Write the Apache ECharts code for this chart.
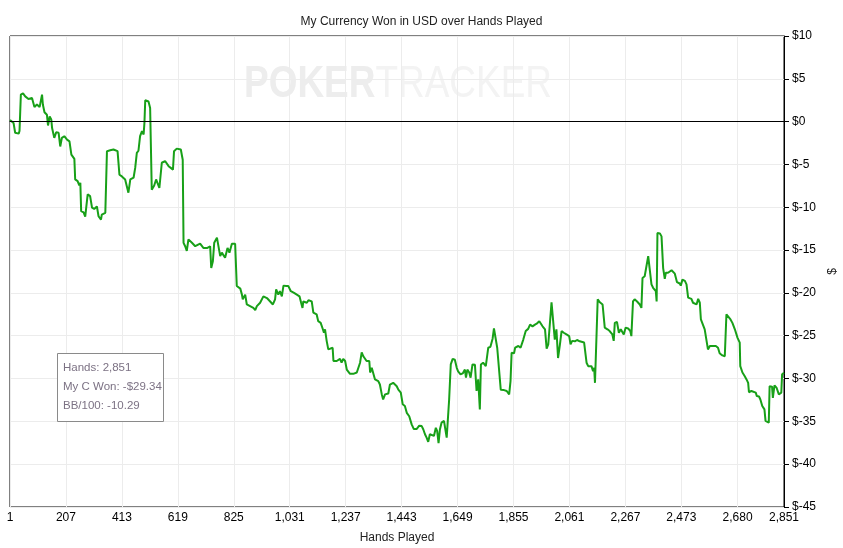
<!DOCTYPE html>
<html>
<head>
<meta charset="utf-8">
<script src="https://cdn.jsdelivr.net/npm/echarts@6/dist/echarts.min.js"></script>
<style>
  html, body { margin: 0; padding: 0; background: #fff; }
  #chart { width: 843px; height: 548px; }
</style>
</head>
<body>
<div id="chart"></div>
<script>
const handTicks = [1, 207, 413, 619, 825, 1031, 1237, 1443, 1649, 1855, 2061, 2267, 2473, 2680, 2851];

const hands = [
  1, 14, 20, 33, 36, 41, 49, 57, 69, 82, 88, 91, 100, 110, 119, 122, 128, 137, 141, 147,
  153, 156, 164, 171, 180, 186, 192, 201, 211, 220, 227, 238, 241, 250, 256, 260, 263, 272, 278, 287,
  296, 303, 311, 321, 327, 336, 339, 352, 358, 370, 382, 388, 397, 404, 413, 419, 425, 437, 444, 456,
  462, 468, 474, 480, 487, 493, 496, 499, 511, 517, 523, 532, 539, 551, 560, 572, 585, 593, 601, 605,
  615, 621, 630, 637,
  640, 646, 652, 658, 671, 683, 689, 701, 713, 720, 728, 738, 742, 748, 753, 763, 768, 775, 781, 787,
  793, 802, 809, 818, 830, 836, 849, 855, 858, 867, 873, 885, 897, 904, 910, 916, 922, 928, 934, 947,
  959, 969, 977, 981, 989, 995, 1002, 1008, 1018, 1026, 1035, 1047, 1057, 1067, 1073, 1078, 1081, 1094, 1100, 1112,
  1118, 1130, 1136, 1145, 1153, 1157, 1161, 1167, 1173, 1179, 1189, 1192, 1204, 1216, 1222, 1228, 1235, 1241, 1253, 1265,
  1278, 1284, 1290, 1296, 1302, 1314, 1324, 1327,
  1333, 1339, 1345, 1357, 1363, 1370, 1375, 1382, 1394, 1400, 1407, 1412, 1419, 1425, 1431, 1440, 1447, 1455, 1462, 1471,
  1480, 1488, 1498, 1508, 1517, 1523, 1529, 1535, 1541, 1547, 1554, 1562, 1569, 1574, 1579, 1584, 1590, 1599, 1606, 1609,
  1615, 1618, 1624, 1631, 1639, 1646, 1651, 1660, 1668, 1676, 1680, 1685, 1692, 1697, 1704, 1713, 1719, 1725, 1731, 1735,
  1743, 1753, 1758, 1762, 1770, 1778, 1783, 1790, 1795, 1802, 1808, 1820, 1830, 1839, 1844, 1848, 1857, 1861, 1873, 1881,
  1887, 1891, 1900, 1909, 1916, 1925, 1934, 1942, 1950,
  1962, 1971, 1977, 1983, 1989, 1995, 2001, 2007, 2013, 2019, 2026, 2032, 2040, 2050, 2060, 2065, 2071, 2081, 2089, 2099,
  2105, 2115, 2121, 2124, 2130, 2136, 2142, 2148, 2152, 2155, 2161, 2165, 2173, 2183, 2188, 2191, 2201, 2209, 2219, 2224,
  2228, 2236, 2243, 2250, 2256, 2261, 2268, 2277, 2285, 2289, 2295, 2301, 2310, 2320, 2326, 2330, 2338, 2345, 2351, 2357,
  2363, 2369, 2379, 2382,
  2385, 2394, 2400, 2406, 2412, 2416, 2424, 2437, 2449, 2457, 2467, 2471, 2477, 2486, 2492, 2498, 2504, 2510, 2516, 2529,
  2535, 2541, 2545, 2551, 2559, 2565, 2571, 2578, 2588, 2600, 2608, 2614, 2624, 2633, 2637, 2639, 2645, 2654, 2661, 2670,
  2676, 2680, 2688, 2690, 2698, 2706, 2713, 2719, 2722, 2731, 2737, 2747, 2751, 2759, 2764, 2771, 2779, 2783, 2795, 2798,
  2807, 2810, 2816, 2824, 2832, 2841, 2844, 2851
];

const won = [
  0.2, -0.15, -1.3, -1.4, -1.1, 3.15, 3.3, 2.95, 2.65, 2.75, 2.75, 1.7, 2.0, 1.7, 3.15, 2.0, 1.1, 0.8, -0.45, 0.6,
  0.25, -0.75, -1.9, -1.25, -1.3, -2.9, -1.9, -1.7, -2.1, -2.3, -3.85, -4.35, -6.75, -6.95, -7.45, -7.15, -10.45, -10.6, -11.1, -8.5,
  -8.7, -10.05, -10.2, -9.9, -11.05, -11.45, -10.85, -10.65, -3.45, -3.35, -3.25, -3.05, -3.45, -6.2, -6.4, -6.2, -6.75, -8.3, -6.75, -6.55,
  -5.4, -3.65, -3.4, -1.7, -1.1, -1.5, -0.15, 2.5, 2.35, 1.6, -7.95, -7.45, -6.75, -7.75, -4.8, -4.6, -5.2, -5.4, -5.6, -3.45,
  -3.15, -3.2, -3.25, -4.45,
  -14.15, -14.55, -15.1, -13.75, -14.15, -14.55, -14.75, -14.25, -14.75, -14.95, -14.75, -14.55, -17.1, -16.3, -14.15, -13.55, -13.75, -15.7, -15.3, -15.5,
  -15.9, -14.75, -15.3, -14.25, -14.25, -19.2, -19.5, -20.2, -20.75, -20.2, -21.35, -21.55, -21.75, -22.0, -21.55, -21.75, -21.15, -21.35, -20.4, -20.6,
  -21.0, -21.35, -20.75, -19.6, -20.2, -19.8, -20.4, -19.15, -19.2, -19.2, -19.8, -20.0, -20.2, -20.4, -21.15, -21.75, -21.0, -21.15, -20.85, -21.0,
  -22.3, -22.5, -23.3, -23.5, -24.25, -24.65, -24.25, -25.6, -26.6, -26.4, -26.4, -27.95, -27.95, -27.7, -28.15, -27.7, -27.95, -28.95, -29.45, -29.45,
  -29.3, -29.25, -28.15, -26.95, -27.4, -27.95, -27.95, -29.3,
  -28.75, -28.8, -30.1, -30.3, -30.7, -31.85, -32.45, -31.85, -31.75, -30.7, -30.9, -30.5, -30.3, -30.9, -31.3, -31.65, -33.0, -33.2, -34.0, -34.4,
  -35.35, -35.9, -35.9, -35.5, -35.55, -35.95, -36.5, -36.9, -37.4, -36.5, -36.45, -36.7, -35.75, -36.15, -37.55, -35.95, -35.15, -34.95, -35.15, -36.9,
  -36.85, -32.45, -28.35, -27.7, -27.8, -28.75, -29.15, -29.5, -29.4, -28.95, -29.9, -28.95, -29.3, -29.9, -28.35, -28.4, -31.45, -30.1, -33.6, -28.35,
  -28.15, -28.55, -28.5, -26.4, -26.3, -25.35, -24.15, -24.05, -26.4, -26.6, -31.3, -31.35, -31.45, -31.85, -30.3, -27.0, -27.05, -26.4, -26.2, -26.4,
  -26.6, -25.45, -24.45, -24.2, -23.7, -23.9, -23.7, -23.55, -23.3,
  -23.9, -24.25, -26.5, -26.0, -26.0, -21.1, -21.15, -25.45, -24.25, -27.6, -26.0, -24.45, -24.65, -24.85, -25.05, -26.0, -25.6, -25.65, -25.5, -25.65,
  -25.6, -25.8, -25.65, -28.15, -28.55, -28.75, -28.55, -29.15, -28.75, -30.5, -30.5, -20.75, -21.1, -21.35, -21.55, -24.05, -24.25, -24.45, -24.85, -25.6,
  -23.5, -23.4, -24.65, -24.25, -24.25, -24.85, -24.05, -24.15, -24.45, -25.05, -21.0, -20.75, -21.0, -21.35, -21.75, -18.25, -18.05, -17.85, -15.7, -15.75,
  -19.0, -19.4, -19.8, -21.0,
  -13.0, -13.05, -13.4, -17.1, -18.35, -17.65, -17.65, -17.35, -17.75, -18.75, -18.9, -19.15, -18.45, -18.6, -19.0, -20.55, -20.75, -20.7, -21.15, -21.35,
  -20.7, -21.15, -23.1, -23.3, -24.25, -24.45, -26.6, -26.2, -26.2, -26.2, -26.4, -27.05, -27.3, -27.4, -27.4, -22.5, -22.7, -23.1, -23.5, -24.25,
  -24.25, -25.25, -25.8, -28.55, -29.3, -29.7, -30.1, -30.5, -31.6, -31.45, -31.4, -31.65, -32.05, -32.1, -32.45, -33.2, -33.6, -34.95, -35.15, -30.9,
  -30.95, -32.25, -30.8, -31.1, -31.85, -31.65, -29.5, -29.34
];

const summaryLines = ["Hands: 2,851", "My C Won: -$29.34", "BB/100: -10.29"];

const withCommas = (v) => String(v).replace(/\B(?=(\d{3})+(?!\d))/g, ",");
const font = "Liberation Sans";

const chart = echarts.init(document.getElementById("chart"));

chart.setOption({
  animation: false,
  title: {
    text: "My Currency Won in USD over Hands Played",
    left: "center",
    top: 11,
    textStyle: { fontFamily: font, fontSize: 12, fontWeight: "normal", color: "#222" },
  },
  grid: {
    left: 10,
    right: 59,
    top: 36,
    bottom: 41,
    outerBoundsMode: "none",
    show: true,
    borderColor: "#000",
    borderWidth: 1,
  },
  xAxis: {
    type: "value",
    min: 1,
    max: 2851,
    name: "Hands Played",
    nameLocation: "middle",
    nameGap: 25,
    nameTextStyle: { fontFamily: font, fontSize: 12, color: "#222" },
    axisLine: { lineStyle: { color: "#000", width: 1 } },
    axisTick: { show: false, customValues: handTicks },
    axisLabel: {
      customValues: handTicks,
      formatter: withCommas,
      margin: 5,
      fontFamily: font,
      fontSize: 12,
      color: "#000",
    },
    splitLine: { show: true, lineStyle: { color: "#ececec" } },
  },
  yAxis: {
    type: "value",
    position: "right",
    min: -45,
    max: 10,
    interval: 5,
    name: "$",
    nameLocation: "middle",
    nameGap: 37,
    nameTextStyle: { fontFamily: font, fontSize: 12, color: "#222" },
    axisLine: { show: true, lineStyle: { color: "#000", width: 1 } },
    axisTick: { show: true, inside: false, length: 5, lineStyle: { color: "#000" } },
    axisLabel: {
      formatter: (v) => "$" + v,
      margin: 8,
      fontFamily: font,
      fontSize: 12,
      color: "#000",
    },
    splitLine: { show: true, lineStyle: { color: "#ececec" } },
  },
  graphic: [
    {
      type: "text",
      x: 398,
      y: 85,
      scaleX: 0.84,
      z: -10,
      silent: true,
      style: {
        text: "{a|POKER}{b|TRACKER}",
        align: "center",
        verticalAlign: "middle",
        rich: {
          a: { fontFamily: font, fontSize: 44, fontWeight: "bold", fill: "#ededed" },
          b: { fontFamily: font, fontSize: 44, fontWeight: "normal", fill: "#f3f3f3" },
        },
      },
    },
    {
      type: "group",
      x: 57,
      y: 353,
      z: 100,
      silent: true,
      children: [
        {
          type: "rect",
          z: 100,
          shape: { x: 0.5, y: 0.5, width: 106, height: 68 },
          style: { fill: "#fff", stroke: "#8a8a8a", lineWidth: 1 },
        },
        {
          type: "text",
          z: 101,
          x: 6,
          y: 5,
          style: {
            text: summaryLines.join("\n"),
            fontFamily: font,
            fontSize: 11.5,
            lineHeight: 19,
            fill: "#7c7284",
          },
        },
      ],
    },
  ],
  series: [
    {
      name: "My C Won",
      type: "line",
      data: hands.map((h, i) => [h, won[i]]),
      showSymbol: false,
      lineStyle: { color: "#18a018", width: 2 },
      markLine: {
        silent: true,
        symbol: "none",
        label: { show: false },
        lineStyle: { color: "#000", width: 1, type: "solid" },
        data: [{ yAxis: 0 }],
      },
    },
  ],
});
</script>
</body>
</html>
